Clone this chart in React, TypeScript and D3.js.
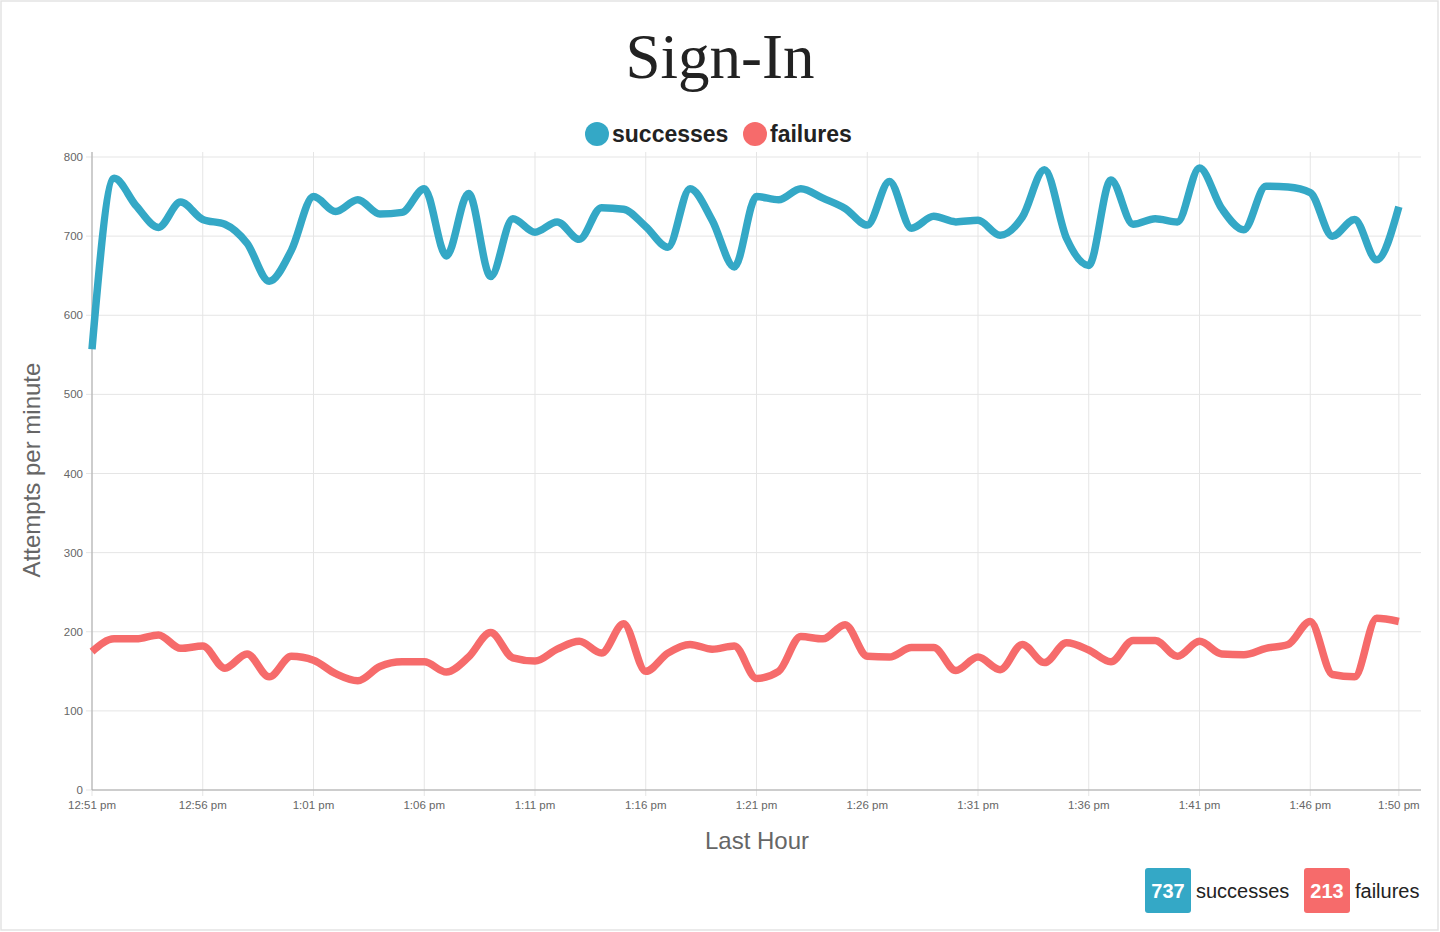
import React, { useEffect } from 'react';
import * as d3 from 'd3';

// one reading per minute, 12:51 pm .. 1:50 pm
const successes = [
  557, 773, 738, 711, 743, 721, 715, 691, 643, 682,
  750, 731, 746, 728, 730, 760, 675, 754, 649, 722,
  705, 718, 696, 736, 734, 712, 686, 760, 720, 661,
  750, 746, 760, 748, 735, 714, 769, 710, 725, 718,
  720, 701, 724, 784, 697, 663, 771, 715, 722, 718,
  786, 735, 708, 763, 762, 755, 700, 721, 670, 737,
];

const failures = [
  175, 191, 191, 196, 179, 182, 154, 172, 143, 169,
  164, 147, 138, 156, 162, 162, 149, 168, 199, 167,
  163, 178, 188, 173, 210, 150, 173, 184, 178, 182,
  141, 150, 194, 191, 209, 169, 168, 180, 180, 151,
  168, 152, 184, 161, 186, 177, 162, 189, 189, 169,
  188, 172, 171, 179, 184, 213, 146, 143, 217, 213,
];

const tickIndex = [0, 5, 10, 15, 20, 25, 30, 35, 40, 45, 50, 55, 59];
const tickLabels = [
  '12:51 pm', '12:56 pm', '1:01 pm', '1:06 pm', '1:11 pm', '1:16 pm', '1:21 pm',
  '1:26 pm', '1:31 pm', '1:36 pm', '1:41 pm', '1:46 pm', '1:50 pm',
];
const yTicks = [0, 100, 200, 300, 400, 500, 600, 700, 800];

const BLUE = '#34a8c6';
const RED = '#f66b6b';
const SANS = '"Liberation Sans", Arial, Helvetica, sans-serif';

const App: React.FC = () => {
  useEffect(() => {
    document.body.style.margin = '0';
  }, []);

  const W = 1440;
  const H = 932;
  const plot = { left: 92, right: 1421, top: 157, bottom: 790 };

  const x = d3.scaleLinear().domain([0, 60]).range([plot.left, plot.right]);
  const y = d3.scaleLinear().domain([0, 800]).range([plot.bottom, plot.top]);

  const line = d3
    .line<number>()
    .x((_, i) => x(i))
    .y((d) => y(d))
    .curve(d3.curveMonotoneX);

  return (
    <svg width={W} height={H} style={{ display: 'block', background: '#fff' }}>
      <rect x={1} y={1} width={1437} height={929} fill="#fff" stroke="#e3e3e3" strokeWidth={1.5} />

      <text
        x={720}
        y={78}
        textAnchor="middle"
        style={{ font: '63px "Liberation Serif", "Times New Roman", serif', fill: '#222' }}
      >
        Sign-In
      </text>

      {/* legend */}
      <g style={{ font: `bold 23px ${SANS}`, fill: '#222' }}>
        <circle cx={597} cy={134} r={12} fill={BLUE} />
        <text x={612} y={142}>successes</text>
        <circle cx={755} cy={134} r={12} fill={RED} />
        <text x={770} y={142}>failures</text>
      </g>

      {/* grid */}
      <g>
        {yTicks.map((t) => (
          <g key={`y${t}`}>
            <line x1={plot.left - 6} x2={plot.right} y1={y(t)} y2={y(t)} stroke="#e5e5e5" strokeWidth={1} />
            <text
              x={plot.left - 9}
              y={y(t) + 4}
              textAnchor="end"
              style={{ font: `11.5px ${SANS}`, fill: '#666' }}
            >
              {t}
            </text>
          </g>
        ))}
        {tickIndex.map((t, i) => (
          <g key={`x${t}`}>
            <line x1={x(t)} x2={x(t)} y1={plot.top - 5} y2={plot.bottom + 6} stroke="#e5e5e5" strokeWidth={1} />
            <text
              x={x(t)}
              y={809}
              textAnchor="middle"
              style={{ font: `11.5px ${SANS}`, fill: '#666' }}
            >
              {tickLabels[i]}
            </text>
          </g>
        ))}
        <line x1={plot.left} x2={plot.left} y1={plot.top - 5} y2={plot.bottom} stroke="#a8a8a8" strokeWidth={1} />
        <line x1={plot.left} x2={plot.right} y1={plot.bottom} y2={plot.bottom} stroke="#a8a8a8" strokeWidth={1} />
      </g>

      {/* series */}
      <path d={line(failures) ?? ''} fill="none" stroke={RED} strokeWidth={7.5} strokeLinejoin="round" />
      <path d={line(successes) ?? ''} fill="none" stroke={BLUE} strokeWidth={7.5} strokeLinejoin="round" />

      {/* axis titles */}
      <text
        transform="translate(31,470) rotate(-90)"
        textAnchor="middle"
        dominantBaseline="central"
        style={{ font: `24px ${SANS}`, fill: '#666' }}
      >
        Attempts per minute
      </text>
      <text x={757} y={849} textAnchor="middle" style={{ font: `24px ${SANS}`, fill: '#666' }}>
        Last Hour
      </text>

      {/* current values */}
      <g style={{ font: `20px ${SANS}` }}>
        <rect x={1145} y={868} width={46} height={45} rx={3} fill={BLUE} />
        <text x={1168} y={898} textAnchor="middle" style={{ fontWeight: 'bold', fill: '#fff' }}>
          {successes[successes.length - 1]}
        </text>
        <text x={1196} y={898} style={{ fill: '#222' }}>successes</text>
        <rect x={1304} y={868} width={46} height={45} rx={3} fill={RED} />
        <text x={1327} y={898} textAnchor="middle" style={{ fontWeight: 'bold', fill: '#fff' }}>
          {failures[failures.length - 1]}
        </text>
        <text x={1355} y={898} style={{ fill: '#222' }}>failures</text>
      </g>
    </svg>
  );
};

export default App;
